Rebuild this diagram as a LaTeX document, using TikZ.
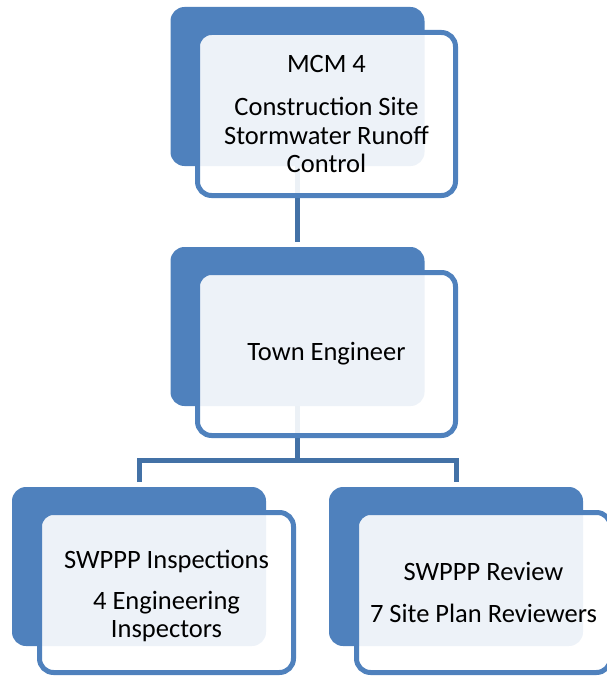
\documentclass[tikz,border=0pt]{standalone}
\usepackage{fontspec}
\setmainfont{Carlito}
\definecolor{dk}{HTML}{4F81BD}
\definecolor{ln}{HTML}{4371A6}
\begin{document}
\begin{tikzpicture}[x=1pt,y=-1pt,
  back/.style={rectangle, fill=dk, rounded corners=14pt, inner sep=0pt, outer sep=0pt,
    minimum width=254pt, minimum height=159pt},
  front/.style={rectangle, draw=dk, line width=5pt, fill=white, fill opacity=0.9,
    text opacity=1, rounded corners=14pt, inner sep=0pt, outer sep=0pt, align=center,
    font=\fontsize{26.5pt}{28.5pt}\selectfont},
  conn/.style={draw=ln, line width=5pt}]
\useasboundingbox (0,0) rectangle (607,677);
% back boxes
\node[back] (d1) at (297.5,86.5) {};
\node[back] (d2) at (297.5,326.5) {};
\node[back] (d3) at (139,566.5) {};
\node[back] (d4) at (456,566.5) {};
% connectors
\coordinate (j) at (297.5,460.5);
\draw[conn] (d1.south) -- ([yshift=5pt]d2.north);
\draw[conn] (d2.south) -- (j);
\draw[conn] ([yshift=5pt]d3.north) |- (j) -| ([yshift=5pt]d4.north);
% front boxes
\node[front, minimum width=258pt, minimum height=163pt] (f1) at (326.5,114)
  {MCM 4\\[15pt]Construction Site\\Stormwater Runoff\\Control};
\node[front, minimum width=258pt, minimum height=163pt] (f2) at (326.5,354)
  {Town Engineer};
\node[front, minimum width=254pt, minimum height=160pt] (f3) at (166.5,592.5)
  {\rule{0pt}{26pt}SWPPP Inspections\\[12pt]4 Engineering\\Inspectors};
\node[front, minimum width=254pt, minimum height=160pt] (f4) at (483.5,592.5)
  {SWPPP Review\\[13.5pt]7 Site Plan Reviewers};
\end{tikzpicture}
\end{document}
